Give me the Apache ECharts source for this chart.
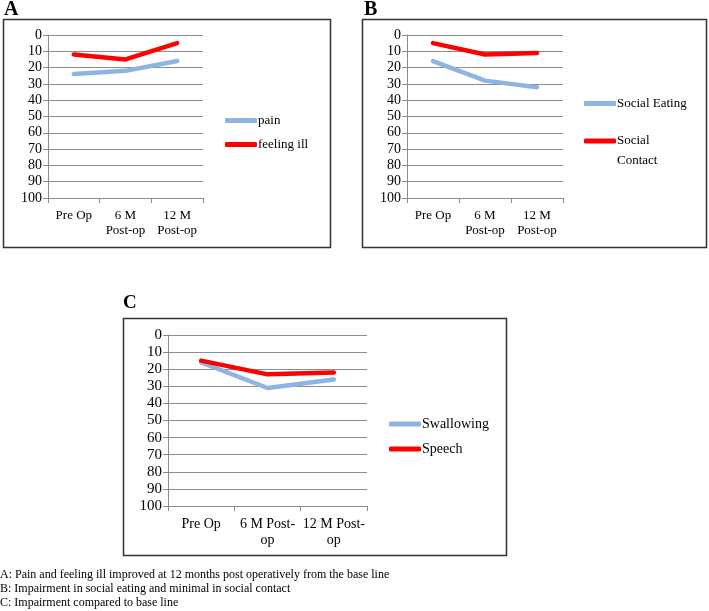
<!DOCTYPE html>
<html>
<head>
<meta charset="utf-8">
<script src="https://cdn.jsdelivr.net/npm/echarts@6/dist/echarts.min.js"></script>
<style>
html,body{margin:0;padding:0;background:#fff;}
#chart{width:709px;height:611px;}
</style>
</head>
<body>
<div id="chart"></div>
<script>
// ---- data ----
const categories = ["Pre Op", "6 M Post-op", "12 M Post-op"];
const yTicks = [0, 10, 20, 30, 40, 50, 60, 70, 80, 90, 100];

const panelTitles = ["A", "B", "C"];

const painValues = [24, 22, 16];
const feelingIllValues = [12, 15, 5];

const socialEatingValues = [16, 28, 32];
const socialContactValues = [5, 12, 11];

const swallowingValues = [16, 31, 26];
const speechValues = [15, 23, 22];

const captionLines = [
  "A: Pain and feeling ill improved at 12 months post operatively from the base line",
  "B: Impairment in social eating and minimal in social contact",
  "C: Impairment compared to base line"
];

// ---- styling ----
const FONT = "Liberation Serif";
const BLUE = "#8EB4E3";
const RED = "#FF0000";
const GRID_COLOR = "#8C8C8C";

const chart = echarts.init(document.getElementById("chart"), null, {renderer: "canvas"});

function xAxisFor(gridIndex, fontSize, formatter) {
  return {
    type: "category",
    gridIndex: gridIndex,
    data: categories,
    boundaryGap: true,
    axisLine: {show: true, onZero: false, lineStyle: {color: GRID_COLOR, width: 1}},
    axisTick: {show: true, length: 5, inside: false, lineStyle: {color: GRID_COLOR}},
    axisLabel: {
      interval: 0, margin: 10, color: "#000",
      fontFamily: FONT, fontSize: fontSize, lineHeight: fontSize + 2,
      formatter: formatter
    },
    splitLine: {show: false}
  };
}
function yAxisFor(gridIndex, fontSize) {
  return {
    type: "value",
    gridIndex: gridIndex,
    inverse: true,
    min: yTicks[0], max: yTicks[yTicks.length - 1], interval: 10,
    axisLine: {show: true, lineStyle: {color: GRID_COLOR, width: 1}},
    axisTick: {show: true, length: 5, inside: false, lineStyle: {color: GRID_COLOR}},
    axisLabel: {margin: 6, color: "#000", fontFamily: FONT, fontSize: fontSize},
    splitLine: {show: true, lineStyle: {color: GRID_COLOR, width: 1}}
  };
}
function lineSeries(name, data, color, idx) {
  return {
    name: name, type: "line", data: data,
    xAxisIndex: idx, yAxisIndex: idx,
    symbol: "none", smooth: false,
    lineStyle: {color: color, width: 4.5, cap: "round", join: "round"},
    itemStyle: {color: color},
    emphasis: {disabled: true},
    animation: false
  };
}
function legendFor(name, left, top, fontSize, extra) {
  return Object.assign({
    data: [name], orient: "vertical", left: left, top: top,
    padding: 0, icon: "roundRect", itemWidth: 32, itemHeight: 5,
    selectedMode: false,
    textStyle: {fontFamily: FONT, fontSize: fontSize, color: "#000", padding: [0, 0, 0, -4]}
  }, extra || {});
}

const wrapAB = v => v.replace(" Post-op", "\nPost-op");
const wrapC = v => v.replace("Post-op", "Post-\nop");

const option = {
  backgroundColor: "#fff",
  animation: false,
  title: [
    {text: panelTitles[0], left: 4, top: 0, padding: 0, textStyle: {fontFamily: FONT, fontWeight: "bold", fontSize: 20, color: "#000"}},
    {text: panelTitles[1], left: 364, top: 0, padding: 0, textStyle: {fontFamily: FONT, fontWeight: "bold", fontSize: 20, color: "#000"}},
    {text: panelTitles[2], left: 123, top: 294, padding: 0, textStyle: {fontFamily: FONT, fontWeight: "bold", fontSize: 19, color: "#000"}}
  ],
  grid: [
    {left: 48, top: 35, width: 155, height: 163},
    {left: 407, top: 35, width: 156, height: 163},
    {left: 168, top: 335, width: 199, height: 171}
  ],
  xAxis: [xAxisFor(0, 13, wrapAB), xAxisFor(1, 13, wrapAB), xAxisFor(2, 14, wrapC)],
  yAxis: [yAxisFor(0, 14), yAxisFor(1, 14), yAxisFor(2, 15)],
  legend: [
    legendFor("pain", 225, 114, 13),
    legendFor("feeling ill", 225, 138, 13),
    legendFor("Social Eating", 584, 97, 13),
    legendFor("Social Contact", 584, 111, 13, {
      formatter: v => "\n" + v.replace(" ", "\n"),
      textStyle: {fontFamily: FONT, fontSize: 13, color: "#000", lineHeight: 20, padding: [0, 0, 0, -4]}
    }),
    legendFor("Swallowing", 389, 417, 14),
    legendFor("Speech", 389, 442, 14)
  ],
  series: [
    lineSeries("pain", painValues, BLUE, 0),
    lineSeries("feeling ill", feelingIllValues, RED, 0),
    lineSeries("Social Eating", socialEatingValues, BLUE, 1),
    lineSeries("Social Contact", socialContactValues, RED, 1),
    lineSeries("Swallowing", swallowingValues, BLUE, 2),
    lineSeries("Speech", speechValues, RED, 2)
  ],
  graphic: [
    {type: "rect", shape: {x: 3.5, y: 19.5, width: 327, height: 228}, style: {fill: null, stroke: "#333", lineWidth: 1.5}, silent: true},
    {type: "rect", shape: {x: 362.5, y: 19.5, width: 344, height: 228}, style: {fill: null, stroke: "#333", lineWidth: 1.5}, silent: true},
    {type: "rect", shape: {x: 123.5, y: 318.5, width: 383, height: 237}, style: {fill: null, stroke: "#333", lineWidth: 1.5}, silent: true},
    {type: "text", left: 0, top: 568, silent: true,
      style: {text: captionLines.join("\n"), font: "12px " + FONT, lineHeight: 14, fill: "#000"}}
  ]
};
chart.setOption(option);
</script>
</body>
</html>
